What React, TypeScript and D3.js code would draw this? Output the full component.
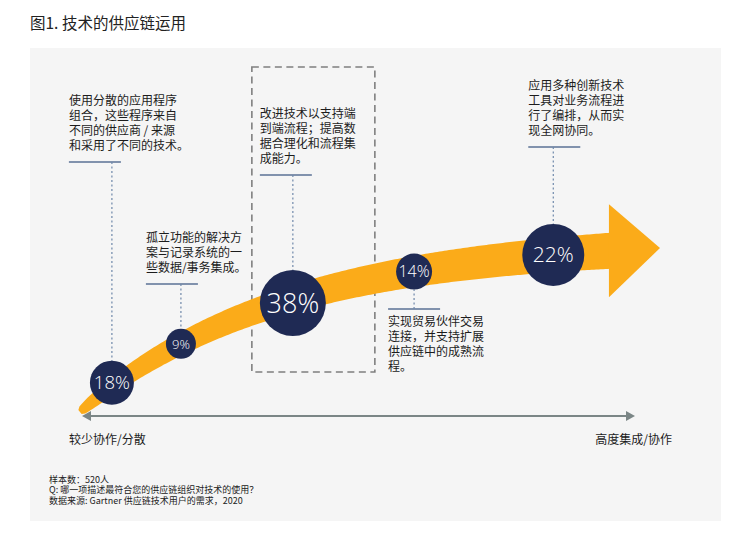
import React from "react";
import * as d3 from "d3";

const title = "图1. 技术的供应链运用";
const stages = ["分散组合", "孤立集成", "端到端流程", "贸易伙伴连接", "全网协同"];
const shares = [18, 9, 38, 14, 22];
const continuumPos = [0.055, 0.174, 0.367, 0.576, 0.816];
const descriptions = [
  ["使用分散的应用程序", "组合，这些程序来自", "不同的供应商 / 来源", "和采用了不同的技术。"],
  ["孤立功能的解决方", "案与记录系统的一", "些数据/事务集成。"],
  ["改进技术以支持端", "到端流程；提高数", "据合理化和流程集", "成能力。"],
  ["实现贸易伙伴交易", "连接，并支持扩展", "供应链中的成熟流", "程。"],
  ["应用多种创新技术", "工具对业务流程进", "行了编排，从而实", "现全网协同。"],
];
const highlighted = [false, false, true, false, false];
const axisLabels = ["较少协作/分散", "高度集成/协作"];
const notes = [
  "样本数：520人",
  "Q: 哪一项描述最符合您的供应链组织对技术的使用？",
  "数据来源: Gartner 供应链技术用户的需求，2020",
];

const W = 750;
const H = 540;
const CJK = "'Noto Sans CJK SC', 'Noto Sans', sans-serif";
const ORANGE = "#fbab19";
const NAVY = "#1f2a54";

export default function App() {
  // layout (not data)
  const RADII = [22, 15, 33, 18, 31];
  const PCT_FONT = [18.5, 13, 27, 16, 21];
  const RULE_Y = [162, 284, 175, 309, 147];
  const TEXT_DX = [-43, -35, -33, -26, -25];
  const BELOW = [false, false, false, true, false];
  const NUDGE_Y = [-4, 0, 4, 0, 0];

  const x = d3.scaleLinear().domain([0, 1]).range([80, 660]);
  const y = d3.scaleLinear().domain([0, 1]).range([412, 248]);
  const tau = 0.35;
  const h = (t: number) => (1 - Math.exp(-t / tau)) / (1 - Math.exp(-1 / tau));
  const center = (t: number): [number, number] => [x(t), y(h(t))];
  const bandW = (t: number) => 5 + 32 * Math.pow(t, 0.38);

  const tEnd = 0.916;
  const ts = d3.range(0, tEnd + 0.0001, 0.004);
  const upper: [number, number][] = [];
  const lower: [number, number][] = [];
  ts.forEach((t) => {
    const [px, py] = center(t);
    const [ax, ay] = center(Math.max(0, t - 0.001));
    const [bx, by] = center(t + 0.001);
    const dx = bx - ax;
    const dy = by - ay;
    const len = Math.hypot(dx, dy);
    const nx = -dy / len;
    const ny = dx / len;
    const hw = bandW(t) / 2;
    upper.push([px - nx * hw, py - ny * hw]);
    lower.push([px + nx * hw, py + ny * hw]);
  });
  const bandPath = d3.line()([...upper, ...lower.reverse()]) + "Z";

  const tHead = 0.912;
  const [hbx, hby] = center(tHead);
  const [tipx, tipy] = center(1);
  const headPath = d3.line()([
    [hbx, hby - 46.5],
    [tipx, tipy],
    [hbx, hby + 46.5],
  ]) + "Z";

  const circles = shares.map((v, i) => {
    const [cx, cy] = center(continuumPos[i]);
    return { v, cx, cy: cy + NUDGE_Y[i], r: RADII[i], i };
  });

  const hi = circles.find((c) => highlighted[c.i])!;
  const boxL = hi.cx - 41;
  const boxR = hi.cx + 82;

  const axisScale = d3.scaleLinear().domain([0, 1]).range([82, 635]);
  const axY = 416;
  const a0 = axisScale(0);
  const a1 = axisScale(1);

  return (
    <svg
      width={W}
      height={H}
      style={{ position: "absolute", left: 0, top: 0, background: "#fff" }}
    >
      <text x={30} y={29} fontFamily={CJK} fontSize={15.5} fill="#222">
        {title}
      </text>
      <rect x={30} y={48} width={691} height={473} fill="#f5f5f5" />

      <rect
        x={boxL}
        y={67}
        width={boxR - boxL}
        height={305}
        fill="none"
        stroke="#7f7f7f"
        strokeWidth={1.6}
        strokeDasharray="7,4.5"
      />

      <path d={bandPath} fill={ORANGE} />
      <path d={headPath} fill={ORANGE} />

      {circles.map((c) => {
        const ry = RULE_Y[c.i];
        const tx = c.cx + TEXT_DX[c.i];
        const below = BELOW[c.i];
        const y1 = below ? c.cy + c.r : c.cy - c.r;
        return (
          <g key={"l" + c.i}>
            <line x1={tx} x2={tx + 52} y1={ry} y2={ry} stroke="#5a7195" strokeWidth={1.3} />
            <line
              x1={c.cx}
              x2={c.cx}
              y1={ry}
              y2={y1}
              stroke="#6f88aa"
              strokeWidth={1.2}
              strokeDasharray="2,2.5"
            />
            {descriptions[c.i].map((line, k) => {
              const n = descriptions[c.i].length;
              const by = below ? ry + 16.5 + k * 15 : ry - 12.5 - (n - 1 - k) * 15;
              return (
                <text key={k} x={tx} y={by} fontFamily={CJK} fontSize={12} fill="#1c1c1c">
                  {line}
                </text>
              );
            })}
          </g>
        );
      })}

      {circles.map((c) => (
        <g key={"c" + c.i}>
          <circle cx={c.cx} cy={c.cy} r={c.r} fill={NAVY} />
          <text
            x={c.cx}
            y={c.cy}
            dy="0.36em"
            textAnchor="middle"
            fontFamily="'Open Sans', 'Noto Sans', sans-serif"
            fontWeight={300}
            fontSize={PCT_FONT[c.i]}
            fill="#fff"
          >
            {c.v}%
          </text>
        </g>
      ))}

      <line x1={a0 + 6} x2={a1 - 6} y1={axY} y2={axY} stroke="#7b8686" strokeWidth={2} />
      <path d={`M${a0},${axY} L${a0 + 9},${axY - 5} L${a0 + 9},${axY + 5} Z`} fill="#7b8686" />
      <path d={`M${a1},${axY} L${a1 - 9},${axY - 5} L${a1 - 9},${axY + 5} Z`} fill="#7b8686" />
      <text x={69} y={444} fontFamily={CJK} fontSize={12} fill="#1c1c1c">
        {axisLabels[0]}
      </text>
      <text x={672} y={444} textAnchor="end" fontFamily={CJK} fontSize={12} fill="#1c1c1c">
        {axisLabels[1]}
      </text>

      {notes.map((n, i) => (
        <text key={i} x={49} y={482.5 + i * 10.5} fontFamily={CJK} fontSize={9} fill="#222">
          {n}
        </text>
      ))}
    </svg>
  );
}
